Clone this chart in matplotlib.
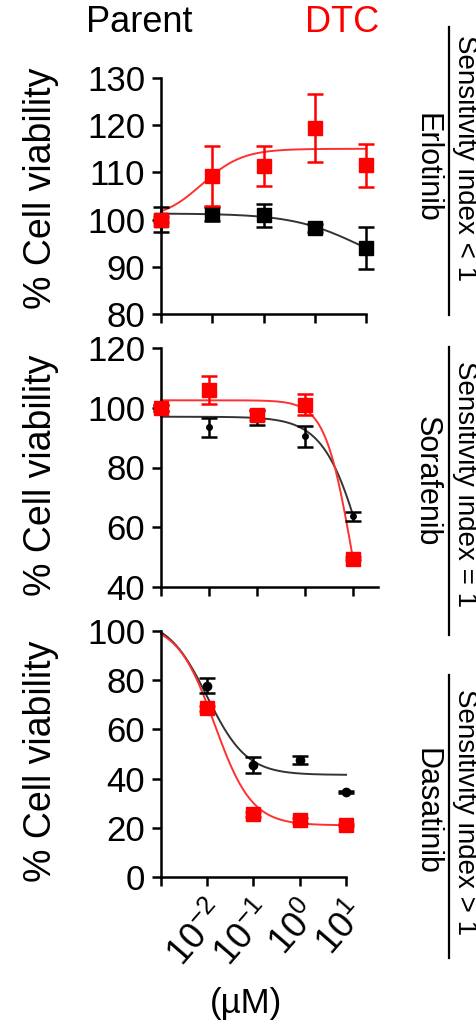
import numpy as np
import matplotlib
matplotlib.use("Agg")
import matplotlib.pyplot as plt
import matplotlib.transforms as mtransforms
from matplotlib.lines import Line2D

plt.rcParams['font.family'] = ['Liberation Sans', 'DejaVu Sans']
plt.rcParams['mathtext.fontset'] = 'custom'
plt.rcParams['mathtext.rm'] = 'Liberation Sans'
plt.rcParams['mathtext.it'] = 'Liberation Sans'

RED = "#ff0000"

# log10 concentration of each dose (uM)
erl_x = [-3, -2, -1, 0, 1]
sor_x = [-3, -2, -1, 0, 1]
das_x = [-2, -1, 0, 1]

# Erlotinib
erl_parent = [100, 101.2, 100.9, 98.2, 94.0]
erl_parent_err = [2.6, 1.5, 2.5, 0.8, 4.4]
erl_dtc = [100, 109.2, 111.3, 119.4, 111.5]
erl_dtc_err = [0.5, 6.3, 4.2, 7.2, 4.5]

# Sorafenib
sor_parent = [100, 93.4, 96.8, 90.4, 63.7]
sor_parent_err = [1.0, 3.3, 2.5, 3.4, 1.5]
sor_dtc = [100, 106, 97.5, 101, 49.5]
sor_dtc_err = [1.0, 4.7, 1.5, 3.5, 0.5]

# Dasatinib
das_parent = [77.8, 45.5, 47.5, 34.6]
das_parent_err = [3.0, 3.2, 1.5, 0.5]
das_dtc = [68.5, 25.5, 23.0, 21.2]
das_dtc_err = [1.0, 1.0, 1.0, 0.5]

# 4PL fit parameters: low-dose plateau, high-dose plateau, logEC50, hill
erl_parent_fit = [101.3, 88, 0.87, 0.66]
erl_dtc_fit = [100, 115, -2.2, 1.1]
sor_parent_fit = [97, 0, 1.28, 1.026]
sor_dtc_fit = [102.5, 0, 0.98, 1.54]
das_parent_fit = [105, 41.5, -2.0, 1.02]
das_dtc_fit = [103, 21, -1.84, 1.08]

xtick_labels = ["", r"$10^{-2}$", r"$10^{-1}$", r"$10^{0}$", r"$10^{1}$"]


def four_pl(x, p):
    top, bottom, ec50, hill = p
    return bottom + (top - bottom) / (1 + 10 ** ((x - ec50) * hill))


fig = plt.figure(figsize=(4.77, 10.24), dpi=100)
W, H = 477, 1024


def make_ax(left, right, top, bottom):
    return fig.add_axes([left / W, 1 - bottom / H, (right - left) / W, (bottom - top) / H])


panels = [
    dict(box=(161, 366, 78, 314), xlim=(-3, 1), ylim=(80, 130), yticks=range(80, 131, 10),
         x=erl_x, p=erl_parent, pe=erl_parent_err, d=erl_dtc, de=erl_dtc_err,
         pfit=erl_parent_fit, dfit=erl_dtc_fit, pmark=('s', 10)),
    dict(box=(161, 378, 348, 587), xlim=(-3, 1.52), ylim=(40, 120), yticks=range(40, 121, 20),
         x=sor_x, p=sor_parent, pe=sor_parent_err, d=sor_dtc, de=sor_dtc_err,
         pfit=sor_parent_fit, dfit=sor_dtc_fit, pmark=('o', 4)),
    dict(box=(161, 346, 631, 877), xlim=(-3, 1), ylim=(0, 100), yticks=range(0, 101, 20),
         x=das_x, p=das_parent, pe=das_parent_err, d=das_dtc, de=das_dtc_err,
         pfit=das_parent_fit, dfit=das_dtc_fit, pmark=('o', 6)),
]

axes = []
for i, pn in enumerate(panels):
    ax = make_ax(*pn['box'])
    axes.append(ax)
    xs = np.linspace(-3, 1, 300)
    ax.plot(xs, four_pl(xs, pn['pfit']), color="#333333", lw=1.4, zorder=2)
    ax.plot(xs, four_pl(xs, pn['dfit']), color="#ff3030", lw=1.4, zorder=2)
    m, ms = pn['pmark']
    ax.errorbar(pn['x'], pn['p'], yerr=pn['pe'], fmt=m, ms=ms, color="black",
                ecolor="black", elinewidth=1.8, capsize=5.5, capthick=1.8, zorder=3)
    ax.errorbar(pn['x'], pn['d'], yerr=pn['de'], fmt='s', ms=10.5, color=RED,
                ecolor=RED, elinewidth=1.8, capsize=5.5, capthick=1.8, zorder=4)
    ax.set_xlim(*pn['xlim'])
    ax.set_ylim(*pn['ylim'])
    ax.set_yticks(list(pn['yticks']))
    ax.set_xticks([-3, -2, -1, 0, 1])
    ax.set_xticklabels(xtick_labels if i == 2 else [""] * 5)
    for s in ['top', 'right']:
        ax.spines[s].set_visible(False)
    for s in ['left', 'bottom']:
        ax.spines[s].set_linewidth(1.8)
    ax.tick_params(width=1.8, length=6.5, labelsize=25, pad=5)
    for c in ax.collections + ax.lines:
        c.set_clip_on(False)

axes[2].tick_params(axis='x', pad=16)
shift = mtransforms.ScaledTranslation(0.14, 0, fig.dpi_scale_trans)
for lab in axes[2].get_xticklabels():
    lab.set_rotation(49)
    lab.set_ha('right')
    lab.set_va('center')
    lab.set_rotation_mode('anchor')
    lab.set_fontsize(26)
    lab.set_transform(lab.get_transform() + shift)

# y labels
for yc in [188, 475, 761]:
    fig.text(41 / W, 1 - yc / H, "% Cell viability", rotation=90, ha='center', va='center', fontsize=27)

fig.text(139 / W, 1 - 23 / H, "Parent", ha='center', va='center', fontsize=26)
fig.text(342 / W, 1 - 23 / H, "DTC", ha='center', va='center', fontsize=26, color=RED)
fig.text(246 / W, 1 - 1003 / H, "(\u00b5M)", ha='center', va='center', fontsize=25)

drugs = ["Erlotinib", "Sorafenib", "Dasatinib"]
drug_y = [168, 481, 811]
sens = ["Sensitivity index < 1", "Sensitivity index = 1", "Sensitivity index > 1"]
sens_y = [158, 484, 812]
line_span = [(27, 315), (347, 635), (675, 958)]
for name, dy, s, sy, (l0, l1) in zip(drugs, drug_y, sens, sens_y, line_span):
    fig.text(427 / W, 1 - dy / H, name, rotation=270, ha='center', va='center', fontsize=22)
    fig.text(465 / W, 1 - sy / H, s, rotation=270, ha='center', va='center', fontsize=20)
    fig.add_artist(Line2D([449 / W, 449 / W], [1 - l0 / H, 1 - l1 / H], color='black', lw=1.6))

fig.savefig("out.png", dpi=100)
